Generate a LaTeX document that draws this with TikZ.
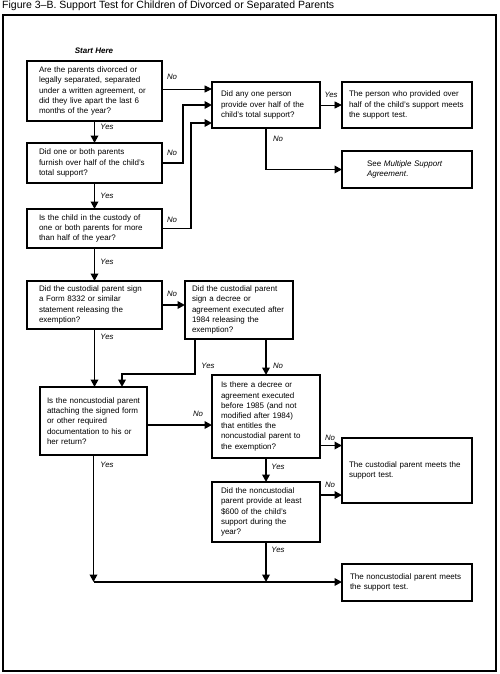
\documentclass[tikz,border=0pt]{standalone}
\usepackage{fontspec}
\setmainfont{Liberation Sans}
\usetikzlibrary{arrows.meta}
\hyphenpenalty=10000
\exhyphenpenalty=10000
\begin{document}
\begin{tikzpicture}[x=1pt,y=-1pt,
  box/.style={draw, line width=1.8pt, anchor=north west, align=left, inner ysep=0pt, outer sep=0pt,
    font=\fontsize{8}{10.2}\selectfont},
  lbl/.style={font=\fontsize{7.8}{9}\selectfont\itshape, inner sep=0pt},
  conn/.style={line width=1.8pt, -{Triangle[length=7.5pt,width=7.5pt]}},
  thinconn/.style={line width=0.9pt, -{Triangle[length=7.5pt,width=7pt]}}]
\useasboundingbox (0,0) rectangle (499,674);
\fill[white] (0,0) rectangle (499,674);
% title and frame
\node[anchor=west, inner sep=0pt, font=\fontsize{10.5}{12}\selectfont] (title) at (2,6) {Figure 3–B. Support Test for Children of Divorced or Separated Parents};
\draw[line width=2pt] (3,15) rectangle (496,671);
\node[font=\fontsize{8}{9}\selectfont\bfseries\itshape, inner sep=0pt] (start) at (94,51) {Start Here};
% boxes
\node[box, minimum width=135, minimum height=60, text width=111pt, inner xsep=12pt] (b1) at (27,61)
 {Are the parents divorced or\\legally separated, separated\\under a written agreement, or\\did they live apart the last 6\\months of the year?};
\node[box, minimum width=135, minimum height=40, text width=111pt, inner xsep=12pt] (b2) at (27,143)
 {Did one or both parents\\furnish over half of the child's\\total support?};
\node[box, minimum width=135, minimum height=39, text width=111pt, inner xsep=12pt] (b3) at (27,209)
 {Is the child in the custody of\\one or both parents for more\\than half of the year?};
\node[box, minimum width=135, minimum height=48, text width=111pt, inner xsep=12pt] (b4) at (27,281)
 {Did the custodial parent sign\\a Form 8332 or similar\\statement releasing the\\exemption?};
\node[box, minimum width=108, minimum height=58, text width=94pt, inner xsep=7pt] (b5) at (185,281)
 {Did the custodial parent\\sign a decree or\\agreement executed after\\1984 releasing the\\exemption?};
\node[box, minimum width=107, minimum height=68, text width=93pt, inner xsep=7pt] (b6) at (40,387)
 {Is the noncustodial parent\\attaching the signed form\\or other required\\documentation to his or\\her return?};
\node[box, minimum width=108, minimum height=83, text width=90pt, inner xsep=9pt] (b7) at (212,375)
 {Is there a decree or\\agreement executed\\before 1985 (and not\\modified after 1984)\\that entitles the\\noncustodial parent to\\the exemption?};
\node[box, minimum width=108, minimum height=60, text width=90pt, inner xsep=9pt] (b8) at (212,482)
 {Did the noncustodial\\parent provide at least\\\$600 of the child's\\support during the\\year?};
\node[box, minimum width=108, minimum height=46, text width=90pt, inner xsep=9pt] (any) at (212,82)
 {Did any one person\\provide over half of the\\child's total support?};
\node[box, minimum width=130, minimum height=46, text width=116pt, inner xsep=7pt] (person) at (342,82)
 {The person who provided over\\half of the child's support meets\\the support test.};
\node[box, minimum width=130, minimum height=37, text width=80pt, inner xsep=25pt] (see) at (342,151)
 {See \textit{Multiple Support}\\\textit{Agreement}.};
\node[box, minimum width=130, minimum height=65, text width=116pt, inner xsep=7pt] (cust) at (342,438)
 {The custodial parent meets the\\support test.};
\node[box, minimum width=130, minimum height=37, text width=114pt, inner xsep=8pt] (nonc) at (342,564)
 {The noncustodial parent meets\\the support test.};
% helper coordinates
\coordinate (k2) at (183,0);
\coordinate (k3) at (191,0);
\coordinate (a3) at ([yshift=5pt]any.south west);
\coordinate (y5) at ([xshift=10pt]b5.south west);
\coordinate (h5) at (122,374);
\coordinate (e6) at ([yshift=-4pt]b6.east);
\coordinate (m1) at (b6.south |- 0,582);
\coordinate (m2) at (b8.south |- 0,582);
% connectors
\draw[conn] (b1) -- (b2);
\draw[conn] (b2) -- (b3);
\draw[conn] (b3) -- (b4);
\draw[thinconn] ([yshift=2pt]b1.east) -- ([yshift=2pt]b1.east -| any.west);
\draw[conn] (b2.east) -| (k2 |- any.west) -- (any.west);
\draw[conn] (b3.east) -| (k3 |- a3) -- (a3);
\draw[thinconn] (any) -- (person);
\draw[conn] (any.south) |- (see.west);
\draw[conn] (b4.east) -- (b4.east -| b5.west);
\draw[conn] (b4.south) -- (b4.south |- b6.north);
\draw[conn] (y5) |- (h5) -- (h5 |- b6.north);
\draw[conn] (b7.north |- b5.south) -- (b7.north);
\draw[conn] (e6) -- (e6 -| b7.west);
\draw[conn] ([yshift=-29pt]b7.east) -- ([yshift=-29pt]b7.east -| cust.west);
\draw[conn] (b7) -- (b8);
\draw[conn] ([yshift=17pt]b8.east) -- ([yshift=17pt]b8.east -| cust.west);
\draw[conn] (b6) -- (m1);
\draw[conn] (b8) -- (m2);
\draw[conn] (m1) -- (m1 -| nonc.west);
% labels
\node[lbl] (n1) at (172,77) {No};
\node[lbl] (y1) at (107,127) {Yes};
\node[lbl] (n2) at (172,153) {No};
\node[lbl] (y2) at (107,196) {Yes};
\node[lbl] (n3) at (172,220) {No};
\node[lbl] (y3) at (107,262) {Yes};
\node[lbl] (n4) at (172,294) {No};
\node[lbl] (y4) at (107,337) {Yes};
\node[lbl] (y5l) at (208,366) {Yes};
\node[lbl] (n5) at (278,366) {No};
\node[lbl] (n6) at (198,414) {No};
\node[lbl] (y6) at (107,465) {Yes};
\node[lbl] (n7) at (330,438) {No};
\node[lbl] (y7) at (278,467) {Yes};
\node[lbl] (n8) at (330,485) {No};
\node[lbl] (y8) at (278,550) {Yes};
\node[lbl] (ya) at (331,95) {Yes};
\node[lbl] (na) at (278,139) {No};
\end{tikzpicture}
\end{document}
